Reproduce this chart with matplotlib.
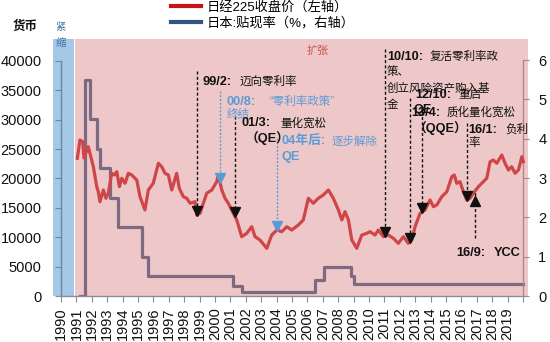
import numpy as np
import matplotlib
matplotlib.use("Agg")
import matplotlib.pyplot as plt
import matplotlib.transforms as mtransforms
from matplotlib.lines import Line2D

plt.rcParams['font.family'] = ['Liberation Sans', 'Noto Sans CJK SC', 'DejaVu Sans']

# Nikkei 225 close (left axis)
nk_year = [1991.06, 1991.23, 1991.41, 1991.49, 1991.77, 1991.99, 1992.10, 1992.32, 1992.42, 1992.53,
           1992.75, 1992.92, 1993.07, 1993.29, 1993.46, 1993.62, 1993.79, 1993.94, 1994.16, 1994.37,
           1994.59, 1994.92, 1995.13, 1995.45, 1995.67, 1995.99, 1996.32, 1996.54, 1996.75, 1996.97,
           1997.19, 1997.51, 1997.68, 1997.94, 1998.16, 1998.38, 1998.70, 1998.81, 1999.03, 1999.24,
           1999.46, 1999.79, 2000.11, 2000.21, 2000.44, 2000.65, 2000.86, 2001.08, 2001.41, 2001.73,
           2002.06, 2002.38, 2002.60, 2002.92, 2003.36, 2003.68, 2004.01, 2004.33, 2004.66, 2004.98,
           2005.41, 2005.73, 2006.06, 2006.38, 2006.71, 2007.03, 2007.36, 2007.68, 2008.01, 2008.23,
           2008.44, 2008.66, 2008.88, 2009.20, 2009.53, 2009.85, 2010.06, 2010.39, 2010.60, 2010.93,
           2011.25, 2011.58, 2011.90, 2012.23, 2012.55, 2012.77, 2012.99, 2013.31, 2013.64, 2013.96,
           2014.18, 2014.40, 2014.72, 2015.05, 2015.37, 2015.54, 2015.69, 2015.91, 2016.12, 2016.34,
           2016.56, 2016.77, 2017.10, 2017.42, 2017.64, 2017.86, 2018.07, 2018.29, 2018.62, 2018.83,
           2019.05, 2019.26, 2019.48, 2019.70, 2019.92, 2020.02]
nk_close = [23420, 26530, 26240, 23470, 25390, 23130, 21990, 18590, 17740, 16040,
            18030, 16620, 17470, 20870, 20580, 21140, 18590, 20020, 19170, 20870,
            20580, 19730, 16890, 14630, 18030, 19170, 22570, 21990, 20870, 20580,
            18030, 20870, 18320, 16890, 16620, 15770, 16040, 13780, 14060, 15770,
            17470, 18030, 19440, 20580, 18030, 16620, 15770, 14630, 12930, 10090,
            10660, 11790, 10090, 9520, 8110, 10370, 11220, 10940, 11790, 11220,
            12080, 12930, 16620, 15770, 16620, 17180, 18030, 16620, 14630, 12930,
            14340, 12930, 9520, 8110, 10370, 10660, 10940, 10370, 11220, 10090,
            10370, 9810, 8960, 10090, 8960, 9520, 11790, 14060, 14630, 16330,
            15190, 15480, 16890, 17740, 20290, 20580, 19170, 19440, 17740, 16330,
            16620, 17470, 18590, 19440, 20020, 22840, 23130, 22570, 23980, 22570,
            21430, 21990, 20870, 21430, 23690, 22840]

# Japan discount rate % (right axis)
disc_year = [1991.23, 1991.56, 1991.88, 1992.32, 1992.53, 1993.18, 1993.72, 1995.24,
             1995.67, 2001.19, 2001.73, 2006.49, 2007.10, 2008.83, 2009.03, 2020.02]
disc_rate = [0, 5.5, 4.5, 3.75, 3.25, 2.5, 1.75, 1.0, 0.5, 0.25, 0.1, 0.4, 0.75, 0.5, 0.3, 0.3]

years = list(range(1990, 2021))
year_labels = [str(y) for y in range(1990, 2020)] + ['']

# policy events: chart position, marker direction, colour
ev_year = [1998.81, 2000.32, 2001.30, 2004.05, 2011.04, 2012.66, 2013.42, 2016.38, 2016.88]
ev_dir = ['v', 'v', 'v', 'v', 'v', 'v', 'v', 'v', '^']
ev_color = ['k', 'b', 'k', 'b', 'k', 'k', 'k', 'k', 'k']
ev_top = [37585, 34184, 29932, 26242, 41276, 33045, 31633, 28793, 9813]

BLACK = '#111111'
LBLUE = '#5B9BD5'
RED = '#C81419'
NAVY = '#325582'

fig = plt.figure(figsize=(5.5, 3.42), dpi=100)
ax = fig.add_axes([53/550, 46/342, 475/550, 257/342])
ax2 = ax.twinx()
ax.set_zorder(ax2.get_zorder() + 1)
ax.patch.set_visible(False)

ax.set_xlim(1989.48, 2020.32)
ax.set_ylim(0, 43708)
ax2.set_ylim(0, 6.534)

ax.plot(nk_year, nk_close, color=RED, lw=2.3, zorder=2, solid_joinstyle='round')
ax2.plot(disc_year, disc_rate, color=NAVY, lw=2.3, drawstyle='steps-post', zorder=2)

# shading laid over the lines (tightening / easing)
ax.axvspan(1989.48, 1990.82, color=(54/255, 132/255, 199/255), alpha=0.447, lw=0, zorder=3)
ax.axvspan(1990.88, 2020.32, color=(217/255, 132/255, 132/255), alpha=0.447, lw=0, zorder=3)

# spines and ticks
for s in ['top', 'right']:
    ax.spines[s].set_visible(False)
for s in ['top', 'left', 'bottom']:
    ax2.spines[s].set_visible(False)
ax.spines['left'].set_position(('data', 1990))
ax.spines['left'].set_bounds(0, 40000)
ax.spines['bottom'].set_bounds(1990, 2020)
ax2.spines['right'].set_position(('data', 2020))
ax2.spines['right'].set_bounds(0, 6)
for sp in [ax.spines['left'], ax.spines['bottom'], ax2.spines['right']]:
    sp.set_color('#8c8c98')
    sp.set_linewidth(1.0)

ax.set_yticks(range(0, 40001, 5000))
ax.tick_params(axis='y', direction='out', length=4, pad=10, labelsize=10.5, color='#8c8c98', labelcolor=BLACK)
ax.set_xticks(years)
ax.set_xticklabels(year_labels, rotation=90)
ax.tick_params(axis='x', direction='out', length=4, pad=4, labelsize=10.5, color='#8c8c98', labelcolor=BLACK)
ax2.set_yticks(range(0, 7))
ax2.tick_params(axis='y', direction='out', length=4, pad=7, labelsize=10.5, color='#8c8c98', labelcolor=BLACK)

# event markers and dashed leaders
for x, d, c, top in zip(ev_year, ev_dir, ev_color, ev_top):
    col = LBLUE if c == 'b' else BLACK
    y = np.interp(x, nk_year, nk_close)
    dy = 3 if d == 'v' else -7
    tr = mtransforms.offset_copy(ax.transData, fig=fig, x=0, y=dy, units='points')
    ls = (0, (1.5, 1.2)) if c == 'b' else (0, (2.2, 1.6))
    ax.plot([x, x], [top, y], color=col, lw=1.0, ls=ls, zorder=4,
            transform=tr if d == 'v' else ax.transData)
    ax.plot([x], [y], marker=d, color=col, ms=7.5, zorder=5, transform=tr, ls='none')

# event texts: (x, y, text, colour, bold)
labels = [
    (1999.20, 36446, '99/2:', BLACK, True), (2001.62, 36446, '迈向零利率', BLACK, False),
    (2000.76, 33045, '00/8:', LBLUE, True), (2003.57, 33045, '“零利率政策”', LBLUE, False),
    (2000.76, 30783, '终结', LBLUE, False),
    (2001.73, 29371, '01/3:', BLACK, True), (2004.22, 29371, '量化宽松', BLACK, False),
    (2001.95, 26820, '（QE）', BLACK, True),
    (2004.33, 26242, '04年后:', LBLUE, True), (2007.58, 26242, '逐步解除', LBLUE, False),
    (2004.33, 23691, 'QE', LBLUE, True),
    (2011.15, 40698, '10/10:', BLACK, True), (2013.96, 40698, '复活零利率政', BLACK, False),
    (2011.15, 38045, '策、', BLACK, False),
    (2011.15, 35324, '创立风险资产购入基', BLACK, False),
    (2011.15, 32483, '金', BLACK, False),
    (2012.99, 34184, '12/10:', BLACK, True), (2015.80, 34184, '重启', BLACK, False),
    (2012.88, 31633, 'QE', BLACK, True),
    (2012.77, 31174, '13/4:', BLACK, True), (2015.05, 31174, '质化量化宽松', BLACK, False),
    (2012.88, 28521, '（QQE）', BLACK, True),
    (2016.45, 28232, '16/1:', BLACK, True), (2018.83, 28232, '负利', BLACK, False),
    (2016.45, 25970, '率', BLACK, False),
    (2015.69, 7262, '16/9:', BLACK, True), (2018.07, 7262, 'YCC', BLACK, True),
]
for x, y, t, c, b in labels:
    ax.text(x, y, t, color=c, fontsize=9.2 if b else 8.3, fontweight='bold' if b else 'normal',
            ha='left', va='center', zorder=6)

ax.text(2006.69, 41667, '扩张', color='#C85050', fontsize=8, ha='center', va='center', zorder=6)
fig.text(25/550, 1 - 27/342, '货币', fontsize=9, fontweight='bold', ha='center', va='center', color=BLACK)
fig.text(61/550, 1 - 27/342, '紧', fontsize=7.5, ha='center', va='center', color='#44709E')
fig.text(61/550, 1 - 43/342, '缩', fontsize=7.5, ha='center', va='center', color='#44709E')

handles = [Line2D([], [], color=RED, lw=3), Line2D([], [], color=NAVY, lw=3)]
fig.legend(handles, ['日经225收盘价（左轴）', '日本:贴现率（%，右轴）'], loc='upper left',
           bbox_to_anchor=(170/550, 1.0), frameon=False, fontsize=9.5, handlelength=2.3,
           handletextpad=0.4, labelspacing=0.2, borderpad=0.05, borderaxespad=0)

fig.savefig('out.png', dpi=100, facecolor='white')
